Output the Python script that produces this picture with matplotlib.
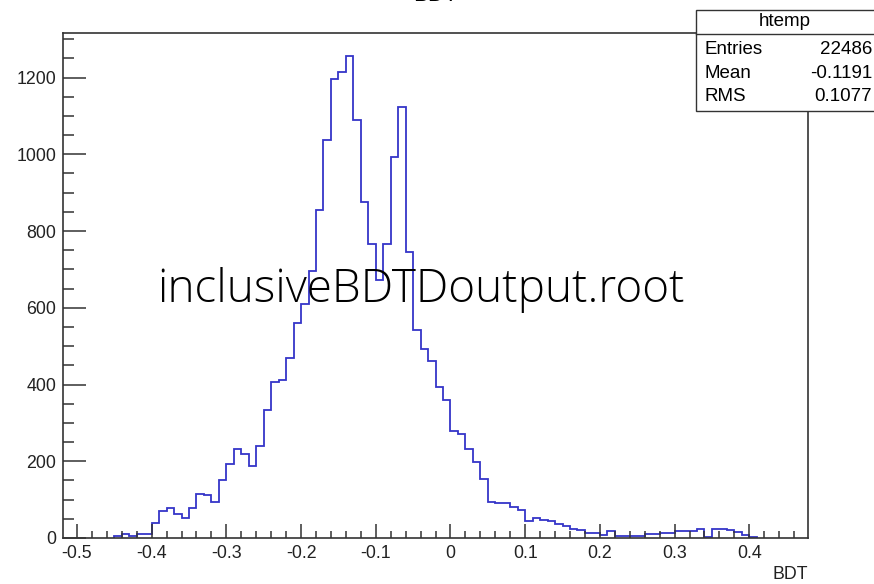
import matplotlib
matplotlib.use("Agg")
import matplotlib.pyplot as plt
import numpy as np
from matplotlib.ticker import MultipleLocator
from matplotlib.patches import Rectangle

plt.rcParams['font.family'] = ['Liberation Sans', 'DejaVu Sans']

# BDT histogram (bin width 0.01, first filled bin starts at -0.45)
bin_start = -0.45
bin_width = 0.01
counts = [4, 10, 4, 10, 10,
          38, 70, 78, 63, 52, 78, 115, 112, 94, 151,
          192, 233, 220, 188, 241, 333, 406, 412, 468, 559,
          611, 697, 854, 1036, 1196, 1214, 1255, 1088, 875, 765,
          673, 765, 994, 1123, 744, 541, 492, 462, 394, 360,
          279, 272, 233, 199, 154, 95, 92, 92, 82, 73,
          45, 52, 47, 45, 36, 30, 24, 20, 13, 13,
          7, 17, 4, 4, 4, 4, 10, 10, 13, 13,
          17, 17, 17, 24, 2, 24, 24, 20, 16, 7,
          2]

stats_labels = ['Entries', 'Mean', 'RMS']
stats_values = ['22486', '-0.1191', '0.1077']
hist_name = 'htemp'
title = 'BDT'
x_title = 'BDT'
overlay = 'inclusiveBDTDoutput.root'

edges = bin_start + bin_width * np.arange(len(counts) + 1)

fig = plt.figure(figsize=(8.74, 5.84), dpi=100)
ax = fig.add_axes([63 / 874, 46 / 584, 745 / 874, 505 / 584])

ax.stairs(counts, edges, baseline=0, color='#3535c8', linewidth=1.3)

ax.set_xlim(-0.5187, 0.4786)
ax.set_ylim(0, 1316)

# ROOT-like ticks: inward, only bottom/left
ax.xaxis.set_major_locator(MultipleLocator(0.1))
ax.xaxis.set_minor_locator(MultipleLocator(0.02))
ax.yaxis.set_major_locator(MultipleLocator(200))
ax.yaxis.set_minor_locator(MultipleLocator(50))
ax.tick_params(axis='both', which='both', direction='in', color='#333333',
               width=1.1, labelsize=12.8, labelcolor='#222222')
ax.tick_params(axis='y', which='major', length=16.5, pad=5)
ax.tick_params(axis='y', which='minor', length=8)
ax.tick_params(axis='x', which='major', length=10, pad=5)
ax.tick_params(axis='x', which='minor', length=5)
ax.xaxis.set_major_formatter(plt.FuncFormatter(lambda v, p: '0' if abs(v) < 1e-9 else f'{v:g}'))
for s in ax.spines.values():
    s.set_color('#333333')
    s.set_linewidth(1.2)

ax.text(1.0, -0.072, x_title, transform=ax.transAxes, ha='right', va='center',
        fontsize=12.8, color='#222222')

fig.text(435 / 874, 1 - 6 / 584, title, ha='center', va='bottom', fontsize=16)

# stats box
box = Rectangle((696 / 874, 1 - 111 / 584), 200 / 874, 101 / 584,
                transform=fig.transFigure, facecolor='white', edgecolor='#333333',
                linewidth=1.0, zorder=5)
fig.add_artist(box)
fig.add_artist(plt.Line2D([696 / 874, 1], [1 - 34 / 584] * 2, transform=fig.transFigure,
                          color='#333333', linewidth=1.0, zorder=6))
fig.text(785 / 874, 1 - 22 / 584, hist_name, ha='center', va='center', fontsize=13.5, zorder=7)
for i, (lab, val) in enumerate(zip(stats_labels, stats_values)):
    y = 1 - (49 + 24 * i) / 584
    fig.text(705 / 874, y, lab, ha='left', va='center', fontsize=13.5, zorder=7)
    fig.text(872 / 874, y, val, ha='right', va='center', fontsize=13.5, zorder=7)

# overlay file name
fig.text(421 / 874, 1 - 290 / 584, overlay, ha='center', va='center',
         fontsize=33, family=['Open Sans', 'DejaVu Sans'], fontweight='light', color='black')

fig.savefig('out.png', dpi=100, facecolor='white')
